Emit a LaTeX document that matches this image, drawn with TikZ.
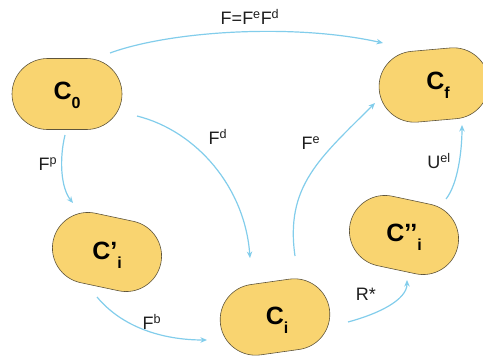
\documentclass[tikz,border=0pt]{standalone}
\usepackage{fontspec}
\setmainfont{Liberation Sans}
\usetikzlibrary{shapes.misc,calc,arrows.meta}
\definecolor{boxfill}{RGB}{249,212,112}
\definecolor{boxline}{RGB}{95,85,60}
\definecolor{arr}{RGB}{130,205,235}
\definecolor{txt}{RGB}{30,30,30}
\tikzset{
  state/.style={rounded rectangle, draw=boxline, fill=boxfill, line width=0.6pt,
    minimum width=110pt, minimum height=71pt, inner sep=0pt},
  stxt/.style={font=\fontsize{25}{27}\selectfont\bfseries, inner sep=0pt},
  flow/.style={draw=arr, line width=1.2pt, -{Stealth[length=6.5pt,width=5.5pt]}},
  lab/.style={font=\fontsize{18}{20}\selectfont, text=txt, inner sep=0pt}
}
\newcommand{\sub}[1]{\raisebox{-0.35em}{\fontsize{16}{18}\selectfont\bfseries #1}}
\begin{document}
\begin{tikzpicture}[x=1pt,y=-1pt]
\useasboundingbox (0,0) rectangle (483,356);
\node[state] (c0) at (67,94) {};
\node[state, rotate=5] (cf) at (434,85) {};
\node[state, rotate=-12] (cp) at (107,252) {};
\node[state, rotate=8] (ci) at (275,317) {};
\node[state, rotate=-12] (cpp) at (404,235) {};
\node[stxt] (t0) at ($(c0)+(0,1)$) {C\sub{0}};
\node[stxt] (tf) at ($(cf)+(4,0)$) {C\sub{f}};
\node[stxt] (tp) at ($(cp)+(0,3)$) {C’\sub{i}};
\node[stxt] (ti) at ($(ci)+(2,3)$) {C\sub{i}};
\node[stxt] (tpp) at ($(cpp)+(0,2)$) {C’’\sub{i}};

\draw[flow] ($(c0)+(43,-41)$) .. controls +(60,-22) and +(-90,-20) .. ($(cf)+(-51,-42)$);
\draw[flow] ($(c0)+(70,22)$) .. controls +(60,15) and +(-5,-70) .. ($(ci)+(-25,-59)$);
\draw[flow] ($(c0)+(-2,41)$) .. controls +(-6,25) and +(-12,-15) .. ($(cp)+(-34,-49)$);
\draw[flow] ($(cp)+(-10,45)$) .. controls +(25,30) and +(-45,0) .. ($(ci)+(-68,23)$);
\draw[flow] ($(ci)+(20,-61)$) .. controls +(-10,-70) and +(-55,55) .. ($(cf)+(-59,18)$);
\draw[flow] ($(ci)+(73,5)$) .. controls +(30,-8) and +(0,20) .. ($(cpp)+(3,45)$);
\draw[flow] ($(cpp)+(42,-36)$) .. controls +(12,-15) and +(0,25) .. ($(cf)+(28,40)$);

\node[lab] (l1) at (250,17) {F=F\textsuperscript{e}F\textsuperscript{d}};
\node[lab] (l2) at (218,137) {F\textsuperscript{d}};
\node[lab] (l3) at (48,164) {F\textsuperscript{p}};
\node[lab] (l4) at (152,322) {F\textsuperscript{b}};
\node[lab] (l5) at (311,143) {F\textsuperscript{e}};
\node[lab] (l6) at (366,294) {R*};
\node[lab] (l7) at (439,161) {U\textsuperscript{el}};
\end{tikzpicture}
\end{document}
